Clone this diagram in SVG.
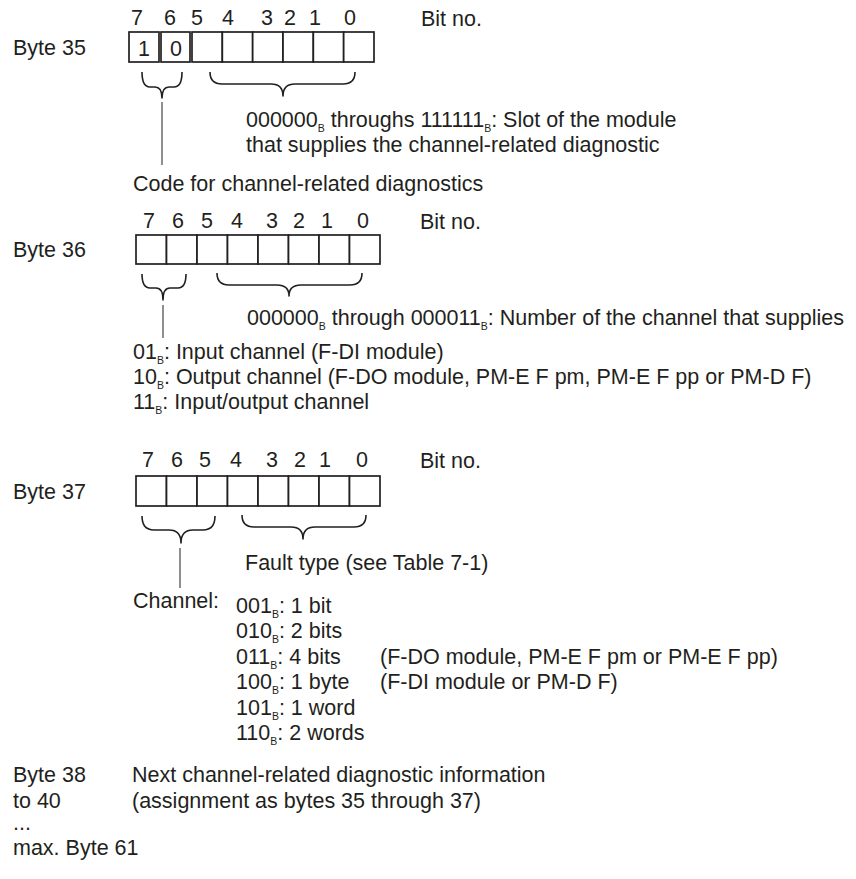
<svg xmlns="http://www.w3.org/2000/svg" width="856" height="879" viewBox="0 0 856 879">
<style>
text{font-family:"Liberation Sans",Arial,sans-serif;font-size:21.5px;fill:#231f20}
.n{text-anchor:middle}
.sub{font-size:10.5px}
.box{fill:#fff;stroke:#231f20;stroke-width:1.7}
.br{fill:none;stroke:#231f20;stroke-width:1.6;stroke-linejoin:round}
.ln{fill:none;stroke:#444;stroke-width:1.2}
</style>
<rect width="856" height="879" fill="#fff"/>

<g id="byte35">
<text x="13" y="55">Byte 35</text>
<text x="137" y="25" class="n">7</text><text x="170" y="25" class="n">6</text><text x="197" y="25" class="n">5</text><text x="228" y="25" class="n">4</text>
<text x="267" y="25" class="n">3</text><text x="290" y="25" class="n">2</text><text x="315" y="25" class="n">1</text><text x="350" y="25" class="n">0</text>
<text x="421" y="26">Bit no.</text>
<rect class="box" x="129" y="32" width="30" height="30"/>
<rect class="box" x="161" y="32" width="29" height="30"/>
<rect class="box" x="192" y="32" width="30.33" height="30"/>
<rect class="box" x="222.33" y="32" width="30.33" height="30"/>
<rect class="box" x="252.67" y="32" width="30.33" height="30"/>
<rect class="box" x="283" y="32" width="30.33" height="30"/>
<rect class="box" x="313.33" y="32" width="30.33" height="30"/>
<rect class="box" x="343.67" y="32" width="30.33" height="30"/>
<text x="144" y="56" class="n">1</text>
<text x="176" y="56" class="n">0</text>
<text x="246" y="127">000000<tspan class="sub" dy="5">B</tspan><tspan dy="-5"> throughs 111111</tspan><tspan class="sub" dy="5">B</tspan><tspan dy="-5">: Slot of the module</tspan></text>
<text x="246" y="152">that supplies the channel-related diagnostic</text>
<text x="133" y="191">Code for channel-related diagnostics</text>
</g>

<g id="byte36">
<text x="13" y="257">Byte 36</text>
<text x="149" y="228" class="n">7</text><text x="178" y="228" class="n">6</text><text x="207" y="228" class="n">5</text><text x="237" y="228" class="n">4</text>
<text x="272" y="228" class="n">3</text><text x="299" y="228" class="n">2</text><text x="327" y="228" class="n">1</text><text x="363" y="228" class="n">0</text>
<text x="420" y="229">Bit no.</text>
<rect class="box" x="136" y="235" width="30.5" height="29"/>
<rect class="box" x="166.5" y="235" width="30.5" height="29"/>
<rect class="box" x="197" y="235" width="30.5" height="29"/>
<rect class="box" x="227.5" y="235" width="30.5" height="29"/>
<rect class="box" x="258" y="235" width="30.5" height="29"/>
<rect class="box" x="288.5" y="235" width="30.5" height="29"/>
<rect class="box" x="319" y="235" width="30.5" height="29"/>
<rect class="box" x="349.5" y="235" width="30.5" height="29"/>
<text x="247" y="325">000000<tspan class="sub" dy="5">B</tspan><tspan dy="-5"> through 000011</tspan><tspan class="sub" dy="5">B</tspan><tspan dy="-5">: Number of the channel that supplies</tspan></text>
<text x="133" y="359">01<tspan class="sub" dy="5">B</tspan><tspan dy="-5">: Input channel (F-DI module)</tspan></text>
<text x="133" y="384">10<tspan class="sub" dy="5">B</tspan><tspan dy="-5">: Output channel (F-DO module, PM-E F pm, PM-E F pp or PM-D F)</tspan></text>
<text x="133" y="409">11<tspan class="sub" dy="5">B</tspan><tspan dy="-5">: Input/output channel</tspan></text>
</g>

<g id="byte37">
<text x="13" y="499">Byte 37</text>
<text x="148" y="467" class="n">7</text><text x="177" y="467" class="n">6</text><text x="205" y="467" class="n">5</text><text x="236" y="467" class="n">4</text>
<text x="272" y="467" class="n">3</text><text x="300" y="467" class="n">2</text><text x="325" y="467" class="n">1</text><text x="362" y="467" class="n">0</text>
<text x="420" y="468">Bit no.</text>
<rect class="box" x="136" y="476" width="30.5" height="30"/>
<rect class="box" x="166.5" y="476" width="30.5" height="30"/>
<rect class="box" x="197" y="476" width="30.5" height="30"/>
<rect class="box" x="227.5" y="476" width="30.5" height="30"/>
<rect class="box" x="258" y="476" width="30.5" height="30"/>
<rect class="box" x="288.5" y="476" width="30.5" height="30"/>
<rect class="box" x="319" y="476" width="30.5" height="30"/>
<rect class="box" x="349.5" y="476" width="30.5" height="30"/>
<text x="245" y="570">Fault type (see Table 7-1)</text>
<text x="133" y="608">Channel:</text>
<text x="236" y="613">001<tspan class="sub" dy="5">B</tspan><tspan dy="-5">: 1 bit</tspan></text>
<text x="236" y="638.4">010<tspan class="sub" dy="5">B</tspan><tspan dy="-5">: 2 bits</tspan></text>
<text x="236" y="663.8">011<tspan class="sub" dy="5">B</tspan><tspan dy="-5">: 4 bits</tspan></text>
<text x="380" y="663.8">(F-DO module, PM-E F pm or PM-E F pp)</text>
<text x="236" y="689.2">100<tspan class="sub" dy="5">B</tspan><tspan dy="-5">: 1 byte</tspan></text>
<text x="380" y="689.2">(F-DI module or PM-D F)</text>
<text x="236" y="714.6">101<tspan class="sub" dy="5">B</tspan><tspan dy="-5">: 1 word</tspan></text>
<text x="236" y="740">110<tspan class="sub" dy="5">B</tspan><tspan dy="-5">: 2 words</tspan></text>
</g>

<g id="byte38">
<text x="13" y="782">Byte 38</text>
<text x="13" y="808">to 40</text>
<text x="132" y="782">Next channel-related diagnostic information</text>
<text x="132" y="808">(assignment as bytes 35 through 37)</text>
<text x="13" y="830">...</text>
<text x="13" y="855">max. Byte 61</text>
</g>

<g id="connectors">
<path class="br" d="M142,72 Q142,87 150,87 L155,87 Q162,87 162,98 Q162,87 169,87 L174,87 Q182,87 182,72"/>
<path class="br" d="M210,72 Q210,84 222,84 L271,84 Q283,84 283,96 Q283,84 295,84 L343,84 Q355,84 355,72"/>
<line class="ln" x1="162" y1="102" x2="162" y2="165"/>
<path class="br" d="M142,274 Q142,288 150,288 L156,288 Q163,288 163,300 Q163,288 170,288 L178,288 Q186,288 186,274"/>
<path class="br" d="M217,273 Q217,285 229,285 L277,285 Q289,285 289,296 Q289,285 301,285 L350,285 Q362,285 362,273"/>
<line class="ln" x1="163" y1="305" x2="163" y2="338"/>
<path class="br" d="M142,516 Q142,530 154,530 L169,530 Q181,530 181,543 Q181,530 193,530 L203,530 Q215,530 215,516"/>
<path class="br" d="M242,515 Q242,527 254,527 L291,527 Q303,527 303,539 Q303,527 315,527 L354,527 Q366,527 366,515"/>
<line class="ln" x1="180" y1="548" x2="180" y2="588"/>
</g>
</svg>
